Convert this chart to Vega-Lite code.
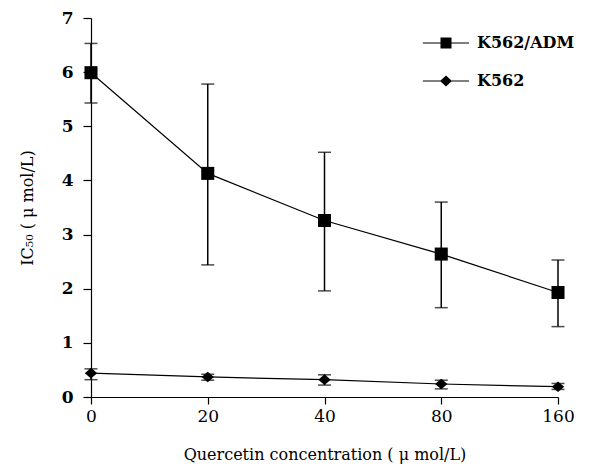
{
  "$schema": "https://vega.github.io/schema/vega-lite/v6.json",
  "width": 467,
  "height": 379,
  "autosize": "none",
  "padding": {"left": 91, "top": 18, "right": 53, "bottom": 71},
  "background": "white",
  "config": {
    "view": {"stroke": null},
    "font": "DejaVu Serif",
    "axis": {"grid": false, "domainColor": "black", "tickColor": "black", "labelColor": "black", "titleColor": "black", "domainWidth": 1.2, "tickWidth": 1.2, "labelFont": "DejaVu Serif", "titleFont": "DejaVu Serif"},
    "legend": {"labelFont": "DejaVu Serif"}
  },
  "data": {
    "values": [
      {"series": "K562/ADM", "conc": "0", "mean": 5.99, "lo": 5.43, "hi": 6.53},
      {"series": "K562/ADM", "conc": "20", "mean": 4.13, "lo": 2.44, "hi": 5.78},
      {"series": "K562/ADM", "conc": "40", "mean": 3.26, "lo": 1.96, "hi": 4.52},
      {"series": "K562/ADM", "conc": "80", "mean": 2.64, "lo": 1.65, "hi": 3.6},
      {"series": "K562/ADM", "conc": "160", "mean": 1.93, "lo": 1.3, "hi": 2.53},
      {"series": "K562", "conc": "0", "mean": 0.44, "lo": 0.32, "hi": 0.52},
      {"series": "K562", "conc": "20", "mean": 0.37, "lo": 0.31, "hi": 0.42},
      {"series": "K562", "conc": "40", "mean": 0.32, "lo": 0.22, "hi": 0.41},
      {"series": "K562", "conc": "80", "mean": 0.24, "lo": 0.15, "hi": 0.31},
      {"series": "K562", "conc": "160", "mean": 0.19, "lo": 0.14, "hi": 0.25}
    ]
  },
  "encoding": {
    "x": {
      "field": "conc", "type": "ordinal", "sort": ["0", "20", "40", "80", "160"],
      "scale": {"type": "point", "padding": 0},
      "axis": {"title": "Quercetin concentration ( μ mol/L)", "labelAngle": 0, "labelFontSize": 17, "labelPadding": 4, "tickSize": 7, "titleFontSize": 16, "titlePadding": 22, "titleFontWeight": "normal"}
    },
    "y": {
      "field": "mean", "type": "quantitative",
      "scale": {"domain": [0, 7], "nice": false},
      "axis": {"title": "IC₅₀ ( μ mol/L)", "values": [0, 1, 2, 3, 4, 5, 6, 7], "format": "d", "labelFontSize": 17, "labelFontWeight": "bold", "labelPadding": 10, "tickSize": 8, "titleFontSize": 16, "titleFontWeight": "normal", "titlePadding": 26}
    }
  },
  "layer": [
    {
      "mark": {"type": "rule", "color": "black", "strokeWidth": 1.5},
      "encoding": {
        "y": {"field": "lo", "type": "quantitative"},
        "y2": {"field": "hi"},
        "detail": {"field": "series"}
      }
    },
    {
      "mark": {"type": "tick", "color": "black", "thickness": 1.5, "size": 13, "orient": "horizontal"},
      "encoding": {"y": {"field": "lo", "type": "quantitative"}}
    },
    {
      "mark": {"type": "tick", "color": "black", "thickness": 1.5, "size": 13, "orient": "horizontal"},
      "encoding": {"y": {"field": "hi", "type": "quantitative"}}
    },
    {
      "mark": {"type": "line", "color": "black", "strokeWidth": 1.2},
      "encoding": {"detail": {"field": "series"}}
    },
    {
      "mark": {"type": "point", "filled": true, "color": "black", "opacity": 0, "size": 121},
      "encoding": {
        "shape": {
          "field": "series", "type": "nominal",
          "scale": {"domain": ["K562/ADM", "K562"], "range": ["M-4.2,-0.1H-1V-1H1V-0.1H4.2V0.1H1V1H-1V0.1H-4.2Z", "M-4.2,-0.08H-0.99L0,-1L0.99,-0.08H4.2V0.08H0.99L0,1L-0.99,0.08H-4.2Z"]},
          "legend": {
            "title": null, "orient": "none", "legendX": 347, "legendY": 17,
            "labelFontSize": 16, "labelFontWeight": "bold", "labelColor": "black",
            "symbolSize": 121, "symbolOpacity": 1, "symbolFillColor": "black",
            "labelOffset": 23, "rowPadding": 20
          }
        }
      }
    },
    {
      "transform": [{"filter": "datum.series === 'K562/ADM'"}],
      "mark": {"type": "point", "filled": true, "color": "black", "opacity": 1, "size": 170, "shape": "square"}
    },
    {
      "transform": [{"filter": "datum.series === 'K562'"}],
      "mark": {"type": "point", "filled": true, "color": "black", "opacity": 1, "size": 140, "shape": "M0,-0.9L1.05,0L0,0.9L-1.05,0Z"}
    }
  ]
}
